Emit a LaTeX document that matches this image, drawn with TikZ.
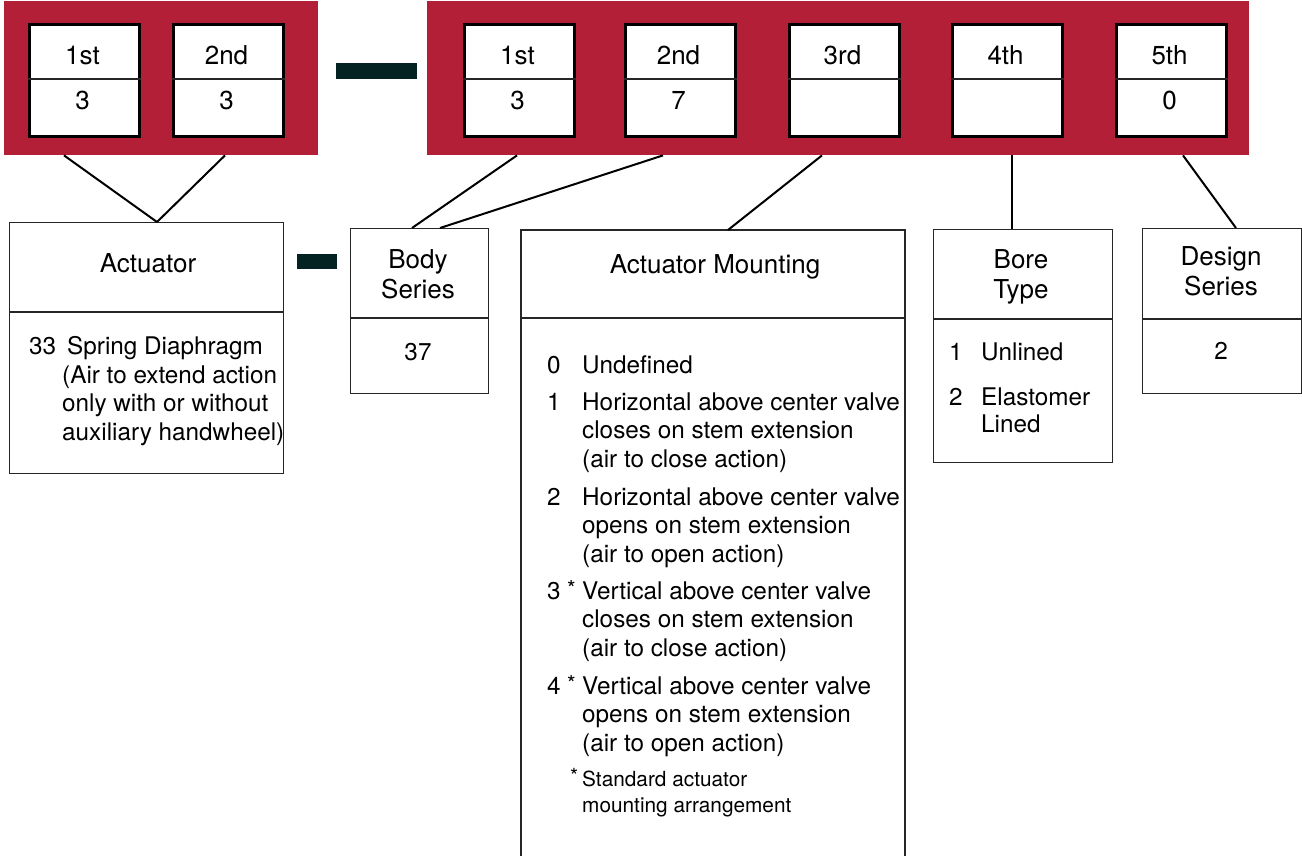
\documentclass[tikz,border=0pt]{standalone}
\usepackage{fontspec}
\setmainfont{TeX Gyre Heros}
\usetikzlibrary{calc}
\definecolor{codered}{HTML}{B21F37}
\definecolor{dashcol}{HTML}{032323}
\newcommand{\mlL}[1]{\begin{tabular}[t]{@{}l@{}}#1\end{tabular}}
\newcommand{\mlC}[1]{\begin{tabular}[t]{@{}c@{}}#1\end{tabular}}
\tikzset{
  redblock/.style={fill=codered, draw=none, anchor=north west, inner sep=0},
  hbox/.style={fill=white, draw=black, line width=3pt, anchor=north west, inner sep=0, minimum width=110, minimum height=112},
  infobox/.style={fill=white, draw=black!85, line width=1.3pt, anchor=north west, inner sep=0},
  divider/.style={line width=1.2pt, black!85},
  dashbar/.style={fill=dashcol, draw=none, anchor=north west, inner sep=0},
  conn/.style={line width=2pt, black},
  head/.style={font=\fontsize{26}{30}\selectfont, inner sep=0, anchor=base},
  body/.style={font=\fontsize{24.3}{28.7}\selectfont, inner sep=0, anchor=base west},
  bodyc/.style={font=\fontsize{24.3}{28.7}\selectfont, inner sep=0, anchor=base},
  small/.style={font=\fontsize{20.8}{26}\selectfont, inner sep=0, anchor=base west},
  star/.style={font=\fontsize{22}{26}\selectfont, inner sep=0, anchor=base west},
}
\begin{document}
\begin{tikzpicture}[x=1pt,y=-1pt]
\useasboundingbox (0,0) rectangle (1302,856);

% red code blocks
\node[redblock, minimum width=314, minimum height=154] (red1) at (4,1) {};
\node[redblock, minimum width=822, minimum height=154] (red2) at (427,1) {};

% dashes
\node[dashbar, minimum width=81, minimum height=16] (dash1) at (336,63) {};
\node[dashbar, minimum width=40, minimum height=15] (dash2) at (297,254) {};

% header boxes
\foreach \name/\x/\top/\bot in {h1/28/1st/3, h2/172/2nd/3, h3/463/1st/3, h4/624/2nd/7, h5/788/3rd/, h6/951/4th/, h7/1115/5th/0}{
  \node[hbox] (\name) at (\x,23) {};
  \draw[divider] (\name.west |- 0,79) -- (\name.east |- 0,79);
  \node[head] (\name-t) at ($(\name.north)+(-2,42)$) {\top};
  \node[head] (\name-b) at ($(\name.north)+(-2,87)$) {\bot};
}

% Actuator box
\node[infobox, minimum width=274, minimum height=251] (act) at (9,222) {};
\draw[divider] (act.west |- 0,312) -- (act.east |- 0,312);
\node[head] (act-t) at (148,272) {Actuator};
\node[body] (act-n) at (29,354) {33};
\node[body] (act-1) at (67,354) {Spring Diaphragm};
\node[body] (act-2) at (62,383) {\mlL{(Air to extend action\\only with or without\\auxiliary handwheel)}};

% Body Series box
\node[infobox, minimum width=138, minimum height=165] (bod) at (350,228) {};
\draw[divider] (bod.west |- 0,318) -- (bod.east |- 0,318);
\node[head] (bod-t) at (418,268) {\mlC{Body\\Series}};
\node[bodyc] (bod-v) at (418,360) {37};

% Actuator Mounting box (open at the bottom)
\coordinate (mnt-nw) at (521,230);
\coordinate (mnt-ne) at (905,230);
\coordinate (mnt-top) at (728,230);
\draw[line width=1.3pt, black!85] (521,856) -- (mnt-nw) -- (mnt-ne) -- (905,856);
\draw[divider] (521,318) -- (905,318);
\node[head] (mnt-t) at (715,273) {Actuator Mounting};
\node[body] (m0n) at (547,373) {0};
\node[body] (m0t) at (582,373) {Undefined};
\node[body] (m1n) at (547,410) {1};
\node[body] (m1t) at (582,410) {\mlL{Horizontal above center valve\\closes on stem extension\\(air to close action)}};
\node[body] (m2n) at (547,505) {2};
\node[body] (m2t) at (582,505) {\mlL{Horizontal above center valve\\opens on stem extension\\(air to open action)}};
\node[body] (m3n) at (547,599) {3};
\node[star] (m3s) at (567,596) {*};
\node[body] (m3t) at (582,599) {\mlL{Vertical above center valve\\closes on stem extension\\(air to close action)}};
\node[body] (m4n) at (547,694) {4};
\node[star] (m4s) at (567,691) {*};
\node[body] (m4t) at (582,694) {\mlL{Vertical above center valve\\opens on stem extension\\(air to open action)}};
\node[small] (fns) at (570,783) {*};
\node[small] (fnt) at (582,786) {\mlL{Standard actuator\\mounting arrangement}};

% Bore Type box
\node[infobox, minimum width=179, minimum height=233] (bor) at (933,229) {};
\draw[divider] (bor.west |- 0,319) -- (bor.east |- 0,319);
\node[head] (bor-t) at (1021,268) {\mlC{Bore\\Type}};
\node[body] (b1n) at (949,360) {1};
\node[body] (b1t) at (981,360) {Unlined};
\node[body] (b2n) at (949,405) {2};
\node[body] (b2t) at (981,405) {Elastomer};
\node[body] (b2u) at (981,432) {Lined};

% Design Series box
\node[infobox, minimum width=159, minimum height=165] (des) at (1142,228) {};
\draw[divider] (des.west |- 0,319) -- (des.east |- 0,319);
\node[head] (des-t) at (1221,265) {\mlC{Design\\Series}};
\node[bodyc] (des-v) at (1221,359) {2};

% connectors
\coordinate (actTop) at (157,222);
\draw[conn] ([xshift=60]red1.south west) -- (actTop);
\draw[conn] ([xshift=221]red1.south west) -- (actTop);
\coordinate (bodA) at (412,228);
\coordinate (bodB) at (440,228);
\draw[conn] ([xshift=90]red2.south west) -- (bodA);
\draw[conn] ([xshift=236]red2.south west) -- (bodB);
\draw[conn] ([xshift=395]red2.south west) -- (mnt-top);
\draw[conn] ([xshift=585]red2.south west) -- (bor.north -| 1012,0);
\draw[conn] ([xshift=756]red2.south west) -- (1236,228);
\end{tikzpicture}
\end{document}
